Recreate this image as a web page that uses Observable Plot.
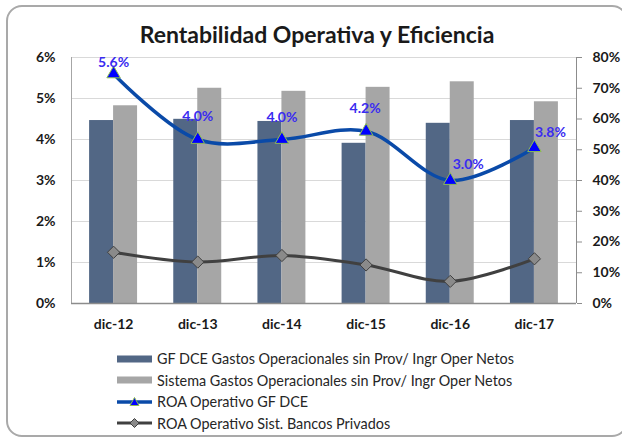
<!DOCTYPE html>
<html><head><meta charset="utf-8">
<script src="https://cdn.jsdelivr.net/npm/d3@7"></script>
<script src="https://cdn.jsdelivr.net/npm/@observablehq/plot@0.6"></script>
<style>
body{margin:0;background:#fff;font-family:Lato,"Open Sans",sans-serif}
#wrap{position:relative;width:622px;height:439px;overflow:hidden;background:#fff}
#frame{position:absolute;left:6px;top:5px;width:622px;height:432px;border:2px solid #a9a9a9;border-radius:16px;box-sizing:border-box}
#title{position:absolute;left:0;width:634px;top:19px;text-align:center;font-weight:bold;font-size:23px;color:#1a1a1a;line-height:30px}
#chart{position:absolute;left:0;top:48px}
#legend{position:absolute;left:117px;top:348px;font-size:14.4px;color:#262626}
.row{height:21.5px;display:flex;align-items:center;white-space:nowrap}
.row svg{margin-right:5px;flex:none}
</style></head>
<body>
<div id="wrap">
  <div id="frame"></div>
  <div id="title">Rentabilidad Operativa y Eficiencia</div>
  <div id="chart"></div>
  <div id="legend"></div>
</div>
<script>
// ---- data ----
const categories = ["dic-12", "dic-13", "dic-14", "dic-15", "dic-16", "dic-17"];
const gfEficiencia = [59.5, 59.9, 59.2, 52.1, 58.6, 59.5];       // right axis, %
const sistemaEficiencia = [64.3, 70.0, 69.0, 70.3, 72.1, 65.6];  // right axis, %
const roaGF = [5.6, 4.0, 4.0, 4.2, 3.0, 3.8];                    // left axis, %
const roaSistema = [1.25, 1.01, 1.17, 0.94, 0.54, 1.09];         // left axis, %
const leftTicks = [0, 1, 2, 3, 4, 5, 6];
const rightTicks = [0, 10, 20, 30, 40, 50, 60, 70, 80];
const seriesNames = [
  "GF DCE Gastos Operacionales sin Prov/ Ingr Oper Netos",
  "Sistema Gastos Operacionales sin Prov/ Ingr Oper Netos",
  "ROA Operativo GF DCE",
  "ROA Operativo Sist. Bancos Privados"
];

// ---- styling ----
const C_GF = "#526785", C_SIS = "#a6a6a6", C_ROA = "#0a4aa8", C_ROAS = "#404040";
const LEFT_MAX = 6, RIGHT_MAX = 80;
const toLeft = v => v * LEFT_MAX / RIGHT_MAX; // map right-axis values onto the left scale
const half = 0.285;
const labelOffsets = [[0, -11], [0, -23], [0, -22], [-1, -23], [18, -16], [16, -15]];

const rows = categories.map((c, i) => ({
  i, c, gf: gfEficiencia[i], sis: sistemaEficiencia[i], roa: roaGF[i], roas: roaSistema[i]
}));

const axisFont = {fontSize: 14, fontWeight: "bold", fill: "#1a1a1a"};

const chart = Plot.plot({
  width: 622, height: 300,
  marginLeft: 71, marginRight: 46, marginTop: 9, marginBottom: 45,
  style: {fontFamily: "Lato, 'Open Sans', sans-serif", overflow: "visible", background: "transparent"},
  x: {type: "linear", domain: [-0.5, 5.5], axis: null},
  y: {domain: [0, LEFT_MAX], axis: null},
  marks: [
    Plot.gridY(leftTicks, {stroke: "#d9d9d9", strokeOpacity: 1, strokeWidth: 1}),
    Plot.ruleX([-0.5], {stroke: "#a6a6a6"}),
    Plot.rectY(rows, {x1: d => d.i - half, x2: d => d.i, y1: 0, y2: d => toLeft(d.gf), fill: C_GF}),
    Plot.rectY(rows, {x1: d => d.i, x2: d => d.i + half, y1: 0, y2: d => toLeft(d.sis), fill: C_SIS}),
    Plot.ruleY([0], {stroke: "#8c8c8c", strokeWidth: 1.5}),
    Plot.ruleX([5.5], {stroke: "#8c8c8c"}),
    Plot.axisY(leftTicks, {anchor: "left", label: null, tickSize: 0, tickPadding: 16, tickFormat: d => d + "%", ...axisFont}),
    Plot.axisY(rightTicks.map(toLeft), {anchor: "right", label: null, tickSize: 5, tickPadding: 11, stroke: "#8c8c8c",
      tickFormat: d => Math.round(d * RIGHT_MAX / LEFT_MAX) + "%", ...axisFont}),
    Plot.axisX(rows.map(d => d.i), {anchor: "bottom", label: null, tickSize: 0, tickPadding: 16, tickFormat: i => categories[i], ...axisFont}),
    Plot.line(rows, {x: "i", y: "roas", curve: "catmull-rom", stroke: C_ROAS, strokeWidth: 3}),
    Plot.dot(rows, {x: "i", y: "roas", symbol: "diamond2", r: 5.5, fill: "#8a8a8a", stroke: "#404040", strokeWidth: 1}),
    Plot.line(rows, {x: "i", y: "roa", curve: "catmull-rom", stroke: C_ROA, strokeWidth: 3.5}),
    Plot.dot(rows, {x: "i", y: "roa", symbol: "triangle", r: 5, fill: "#0000ff", stroke: "#8fbf50", strokeWidth: 1}),
    ...rows.map((d, k) => Plot.text([d], {x: "i", y: "roa", text: r => r.roa.toFixed(1) + "%",
      dx: labelOffsets[k][0], dy: labelOffsets[k][1], fill: "#3a2cf0", fontSize: 14, fontWeight: "bold"}))
  ]
});
document.getElementById("chart").appendChild(chart);

// ---- legend ----
const legend = document.getElementById("legend");
const swatches = [
  `<svg width="35" height="10"><rect x="0" y="1.5" width="35" height="7" fill="${C_GF}"/></svg>`,
  `<svg width="35" height="10"><rect x="0" y="1.5" width="35" height="7" fill="${C_SIS}"/></svg>`,
  `<svg width="35" height="12"><line x1="0" x2="35" y1="6" y2="6" stroke="${C_ROA}" stroke-width="3.5"/><path d="M17.5,1.5 L22,9.5 L13,9.5 Z" fill="#0000ff" stroke="#8fbf50"/></svg>`,
  `<svg width="35" height="12"><line x1="0" x2="35" y1="6" y2="6" stroke="${C_ROAS}" stroke-width="3"/><path d="M17.5,1.5 L22,6 L17.5,10.5 L13,6 Z" fill="#8a8a8a" stroke="#404040"/></svg>`
];
seriesNames.forEach((n, k) => {
  const r = document.createElement("div");
  r.className = "row";
  r.innerHTML = swatches[k] + "<span>" + n + "</span>";
  legend.appendChild(r);
});
</script>
</body></html>
